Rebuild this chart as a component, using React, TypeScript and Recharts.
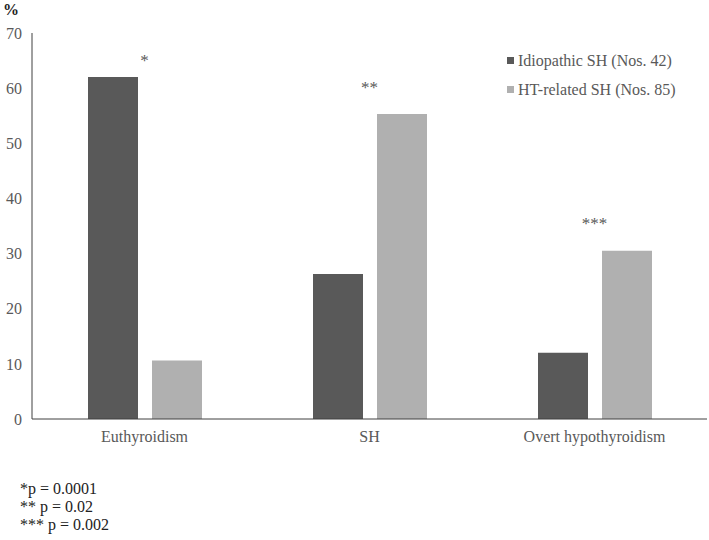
import { Bar, BarChart, ReferenceDot, XAxis, YAxis } from "recharts"

const categories = ["Euthyroidism", "SH", "Overt hypothyroidism"]
const idiopathic = [62, 26.3, 12]
const htRelated = [10.6, 55.3, 30.5]
const stars = ["*", "**", "***"]
// height (in %) where each significance mark sits
const starLevels = [65.2, 60.2, 35.6]
const yTicks = [0, 10, 20, 30, 40, 50, 60, 70]
const seriesNames = ["Idiopathic SH (Nos. 42)", "HT-related SH (Nos. 85)"]
const footnotes = ["*p = 0.0001", "** p = 0.02", "*** p = 0.002"]

const DARK = "#595959"
const LIGHT = "#b0b0b0"
const FONT = "Liberation Serif"

const data = categories.map((name, i) => ({
  name,
  idiopathic: idiopathic[i],
  ht: htRelated[i],
}))

function LegendBox() {
  const colors = [DARK, LIGHT]
  return (
    <div
      style={{
        position: "absolute",
        left: 507,
        top: 46,
        fontFamily: FONT,
        fontSize: 16,
        color: DARK,
      }}
    >
      {seriesNames.map((s, i) => (
        <div key={s} style={{ display: "flex", alignItems: "center", height: 29 }}>
          <span
            style={{
              width: 7,
              height: 7,
              background: colors[i],
              display: "inline-block",
              marginRight: 4,
            }}
          />
          {s}
        </div>
      ))}
    </div>
  )
}

export default function App() {
  return (
    <div
      style={{
        position: "absolute",
        left: 0,
        top: 0,
        width: 709,
        height: 540,
        background: "#fff",
        fontFamily: FONT,
      }}
    >
      <div
        style={{
          position: "absolute",
          left: 3,
          top: 1,
          fontWeight: "bold",
          fontSize: 16,
          color: "#222",
        }}
      >
        %
      </div>
      <BarChart
        width={709}
        height={540}
        data={data}
        margin={{ top: 33, right: 2, left: 0, bottom: 91 }}
        barSize={50}
        barGap={14}
      >
        <XAxis
          dataKey="name"
          tickLine={false}
          axisLine={{ stroke: "#404040" }}
          tick={{ fill: DARK, fontSize: 16, fontFamily: FONT }}
          tickMargin={6}
          height={30}
        />
        <YAxis
          domain={[0, 70]}
          ticks={yTicks}
          width={32}
          tickLine={false}
          axisLine={{ stroke: "#404040" }}
          tick={{ fill: DARK, fontSize: 16, fontFamily: FONT }}
          tickMargin={4}
          interval={0}
        />
        <Bar dataKey="idiopathic" fill={DARK} isAnimationActive={false} />
        <Bar dataKey="ht" fill={LIGHT} isAnimationActive={false} />
        {categories.map((c, i) => (
          <ReferenceDot
            key={c}
            x={c}
            y={starLevels[i]}
            r={0}
            ifOverflow="visible"
            label={{
              value: stars[i],
              position: "center",
              fill: DARK,
              fontSize: 17,
              fontFamily: FONT,
            }}
          />
        ))}
      </BarChart>
      <LegendBox />
      <div
        style={{
          position: "absolute",
          left: 20,
          top: 480,
          fontSize: 16,
          lineHeight: "18px",
          color: "#222",
        }}
      >
        {footnotes.map((f) => (
          <div key={f}>{f}</div>
        ))}
      </div>
    </div>
  )
}
